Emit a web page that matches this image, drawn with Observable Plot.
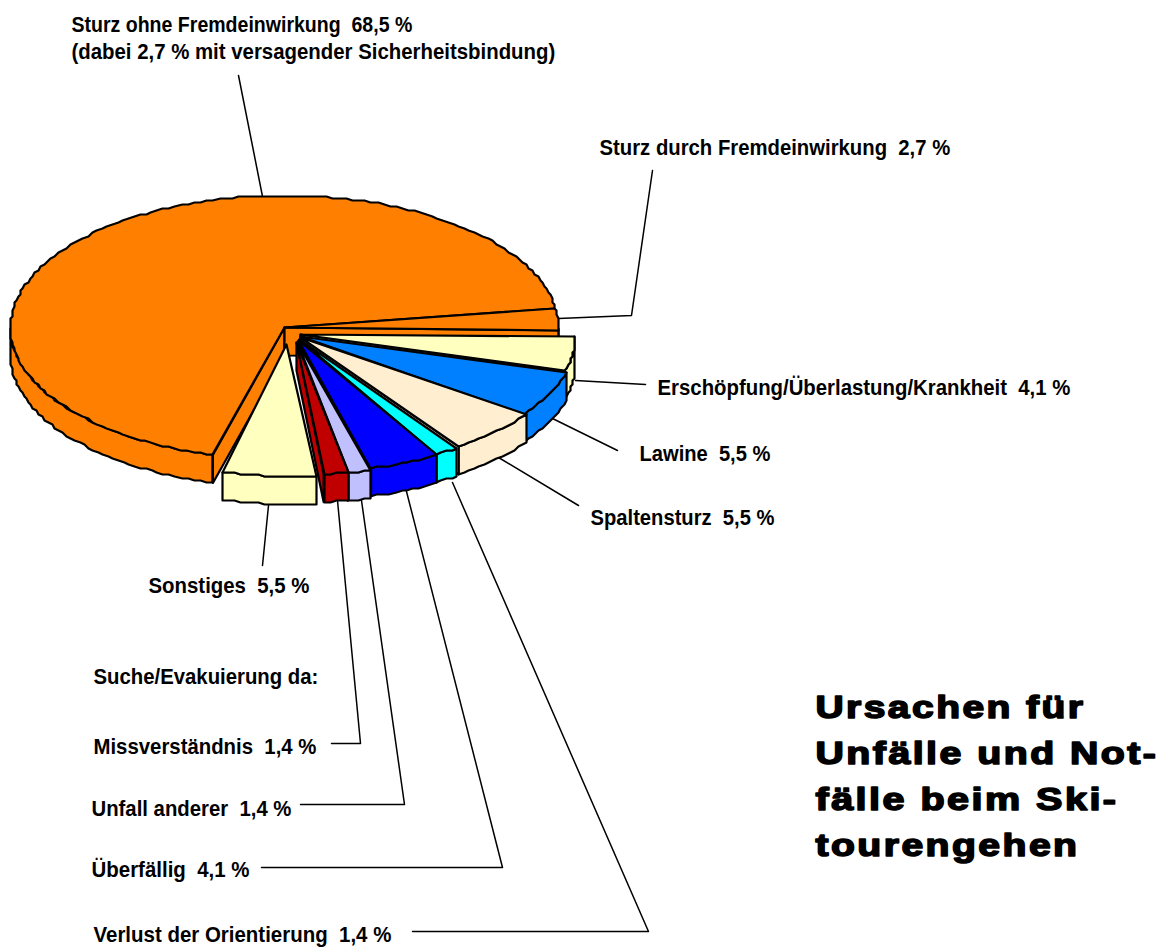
<!DOCTYPE html>
<html><head><meta charset="utf-8">
<script src="https://cdn.jsdelivr.net/npm/d3@7"></script>
<script src="https://cdn.jsdelivr.net/npm/@observablehq/plot@0.6"></script>
<style>
html,body{margin:0;padding:0;background:#fff}
svg{display:block}
svg text{white-space:pre}
</style></head><body><div id="chart"></div>
<script>
// Chart data, in pie order (percent)
const causes = ["Sturz ohne Fremdeinwirkung","Sturz durch Fremdeinwirkung","Erschöpfung/Überlastung/Krankheit","Lawine","Spaltensturz","Verlust der Orientierung","Überfällig","Unfall anderer","Missverständnis","Sonstiges"];
const shares = [68.5,2.7,4.1,5.5,5.5,1.4,4.1,1.4,1.4,5.5];
const colors = ["#FF8000","#FF8000","#FFFFC0","#0080FF","#FFEFD0","#00FFFF","#0000FF","#C0C0FF","#C00000","#FFFFC0"];
// Pie centre of each slice (exploded slices are shifted)
const centerX = [284,284,301,302,303,301,301,301,301,293];
const centerY = [327,327,334,336,337,339,340,342,342,344];
const apexX   = [284,284,300,300,300,299,298,297,296,286];
const radiusX = 274, radiusY = 132, depth = 28, startDeg = -8.5;

// Label table
const labelText = ["Sturz ohne Fremdeinwirkung  68,5 %","(dabei 2,7 % mit versagender Sicherheitsbindung)","Sturz durch Fremdeinwirkung  2,7 %","Erschöpfung/Überlastung/Krankheit  4,1 %","Lawine  5,5 %","Spaltensturz  5,5 %","Sonstiges  5,5 %","Suche/Evakuierung da:","Missverständnis  1,4 %","Unfall anderer  1,4 %","Überfällig  4,1 %","Verlust der Orientierung  1,4 %"];
const labelX = [71,71,599,657,639,590,148,93,93,91,91,93];
const labelY = [31,58,154,394,460,524,592,683,753,815,876,941];
const labelEnd = [412,555,950,1070,770,774,309,318,316,291,249,391];
const titleText = ["Ursachen für","Unfälle und Not-","fälle beim Ski-","tourengehen"];
const titleY = [717,763,809,855];
const titleEnd = [1085,1158,1118,1079];
// Leader lines
const leaders = [
 [[238,75],[262,196]],
 [[652,170],[631,315],[558,318]],
 [[645,384],[575,380]],
 [[617,450],[552,418]],
 [[578,505],[498,457]],
 [[268,505],[262,565]],
 [[337,500],[360,743],[331,743]],
 [[361,500],[404,804],[300,804]],
 [[406,491],[502,867],[261,867]],
 [[452,482],[648,931],[412,931]]
];

const total = d3.sum(shares);
const rad = d => d*Math.PI/180;
const bounds = [];
let acc = startDeg;
shares.slice(1).forEach((v,i)=>{ const a=acc+v/total*360; bounds.push([acc,a]); acc=a; });
const mainRange = [acc, startDeg+360];

const snap = v => Math.round(v/2)*2;
function arc(a0,a1,cx,cy,dy=0){
  const n = Math.max(2,Math.ceil(Math.abs(a1-a0)/1.4)), out=[];
  for(let i=0;i<=n;i++){ const t=rad(a0+(a1-a0)*i/n);
    out.push([snap(cx+radiusX*Math.cos(t)),snap(cy+radiusY*Math.sin(t))+dy]); }
  return out;
}
const marks=[];
const poly=(pts,fill,sw=2.2)=>marks.push(Plot.line([...pts,pts[0]],{x:d=>d[0],y:d=>d[1],fill,stroke:"#000",strokeWidth:sw,strokeLinejoin:"round"}));
function wedge(a0,a1,cx,cy,ax,fill){
  const vis0=Math.max(a0,0), vis1=Math.min(a1,180);
  if(vis1>vis0){ poly([...arc(vis0,vis1,cx,cy),...arc(vis1,vis0,cx,cy,depth)],fill); }
  const e=[cx+radiusX*Math.cos(rad(a1)),cy+radiusY*Math.sin(rad(a1))];
  if(Math.cos(rad(a1))>0) poly([[ax,cy],e,[e[0],e[1]+depth],[ax,cy+depth]],fill);
  poly([[ax,cy],...arc(a0,a1,cx,cy)],fill);
}
leaders.forEach(l=>marks.push(Plot.line(l,{x:d=>d[0],y:d=>d[1],stroke:"#000",strokeWidth:1.5})));
{
 const [a0,a1]=mainRange, cx=centerX[0], cy=centerY[0];
 poly([...arc(a0,180,cx,cy),...arc(180,a0,cx,cy,depth)],colors[0]);
 const e=[cx+radiusX*Math.cos(rad(a0)),cy+radiusY*Math.sin(rad(a0))];
 poly([[apexX[0],cy],e,[e[0],e[1]+depth],[apexX[0],cy+depth]],colors[0]);
 poly([[apexX[0],cy],...arc(a0,a1,cx,cy)],colors[0]);
}
bounds.forEach(([a0,a1],i)=>wedge(a0,a1,centerX[i+1],centerY[i+1],apexX[i+1],colors[i+1]));
const lab = labelText.map((t,i)=>({t,x:labelX[i],y:labelY[i]}));
marks.push(Plot.text(lab,{x:"x",y:"y",text:"t",textAnchor:"start",lineAnchor:"bottom",fontFamily:"'Liberation Sans',sans-serif",fontWeight:700,fontSize:22,fill:"#000"}));
marks.push(Plot.text(titleText.map((t,i)=>({t,y:titleY[i]})),{x:()=>815,y:"y",text:"t",textAnchor:"start",lineAnchor:"bottom",fontFamily:"'Liberation Sans',sans-serif",fontWeight:700,fontSize:32,fill:"#000",stroke:"#000",strokeWidth:1.6}));

const svg = Plot.plot({
  width:1165,height:947,margin:0,
  x:{domain:[0,1165],range:[0,1165],axis:null},
  y:{domain:[0,947],range:[0,947],axis:null},
  marks
});
document.getElementById("chart").append(svg);
// fit the text to the narrow label and wide title widths of the original
const allText = Array.from(svg.querySelectorAll("text"));
const widths = [...labelEnd.map((e,i)=>e-labelX[i]),...titleEnd.map(e=>e-815)];
allText.forEach((el,i)=>{
  if(i>=labelText.length) el.style.letterSpacing="2px";
  const sx = widths[i]/el.getComputedTextLength();
  const x = +el.getAttribute("x")||0, y = +el.getAttribute("y")||0;
  const old = el.getAttribute("transform")||"";
  el.removeAttribute("x"); el.removeAttribute("y");
  el.setAttribute("transform",`${old} translate(${x},${y}) scale(${sx},1)`);
});
</script></body></html>
